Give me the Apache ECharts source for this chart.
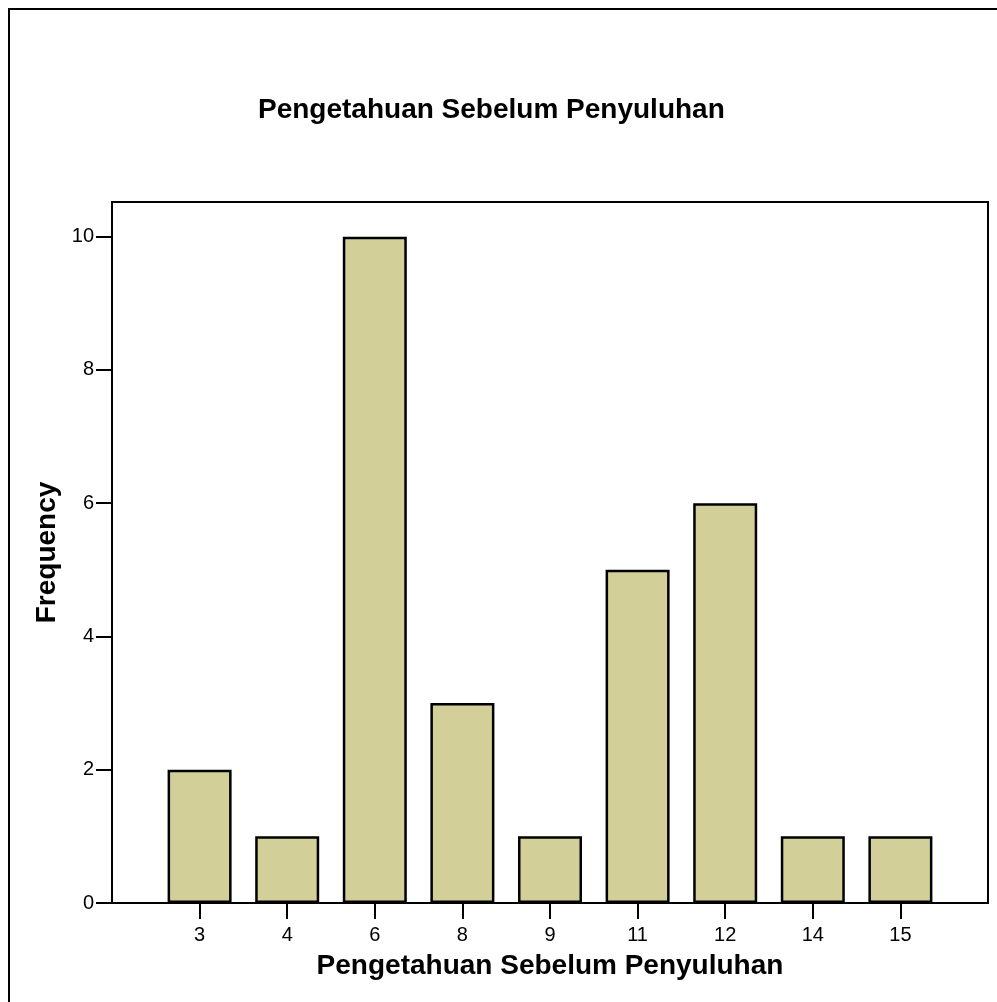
<!DOCTYPE html>
<html>
<head>
<meta charset="utf-8">
<script src="https://cdn.jsdelivr.net/npm/echarts@6/dist/echarts.min.js"></script>
<style>
  html, body { margin: 0; padding: 0; background: #fff; }
  #chart { width: 997px; height: 1002px; }
</style>
</head>
<body>
<div id="chart"></div>
<script>
// scores (category) and how many respondents got each
const scores = ["3", "4", "6", "8", "9", "11", "12", "14", "15"];
const frequency = [2, 1, 10, 3, 1, 5, 6, 1, 1];
const yTicks = [0, 2, 4, 6, 8, 10];

// empty slot on each side so the bars sit like the SPSS plot
const cats = [""].concat(scores, [""]);
const vals = ["-"].concat(frequency, ["-"]);

const myChart = echarts.init(document.getElementById("chart"), null, { renderer: "canvas" });
const font = "Arial, 'Liberation Sans', sans-serif";

const option = {
  animation: false,
  backgroundColor: "#fff",
  title: {
    text: "Pengetahuan Sebelum Penyuluhan",
    left: 258,
    top: 96,
    padding: 0,
    textStyle: { fontFamily: font, fontSize: 28, fontWeight: "bold", color: "#000" },
  },
  graphic: [
    {
      type: "rect",
      shape: { x: 9, y: 9, width: 2000, height: 2000 },
      style: { fill: null, stroke: "#000", lineWidth: 2 },
      silent: true,
    },
  ],
  grid: {
    left: 112,
    top: 202,
    right: 9,
    bottom: 99,
    show: true,
    borderColor: "#000",
    borderWidth: 2,
    containLabel: false,
  },
  xAxis: {
    type: "category",
    data: cats,
    boundaryGap: false,
    name: "Pengetahuan Sebelum Penyuluhan",
    nameLocation: "middle",
    nameGap: 49,
    nameTextStyle: { fontFamily: font, fontSize: 28, fontWeight: "bold", color: "#000" },
    axisLine: { lineStyle: { color: "#000", width: 2 } },
    axisTick: {
      length: 16,
      lineStyle: { color: "#000", width: 2 },
      interval: function (i, v) { return v !== ""; },
    },
    axisLabel: {
      margin: 22,
      fontFamily: font,
      fontSize: 20,
      color: "#000",
      interval: function (i, v) { return v !== ""; },
    },
    splitLine: { show: false },
  },
  yAxis: {
    type: "value",
    min: 0,
    max: 10.52,
    interval: 2,
    name: "Frequency",
    nameLocation: "middle",
    nameGap: 50,
    nameTextStyle: { fontFamily: font, fontSize: 28, fontWeight: "bold", color: "#000" },
    axisLine: { show: true, lineStyle: { color: "#000", width: 2 } },
    axisTick: {
      show: true,
      length: 16,
      lineStyle: { color: "#000", width: 2 },
      customValues: yTicks,
    },
    axisLabel: {
      margin: 18,
      fontFamily: font,
      fontSize: 20,
      color: "#000",
      customValues: yTicks,
    },
    splitLine: { show: false },
  },
  series: [
    {
      type: "bar",
      data: vals,
      barWidth: 64,
      itemStyle: { color: "#d3cf98", borderColor: "#000", borderWidth: 2.5 },
    },
  ],
};

option && myChart.setOption(option);
</script>
</body>
</html>
